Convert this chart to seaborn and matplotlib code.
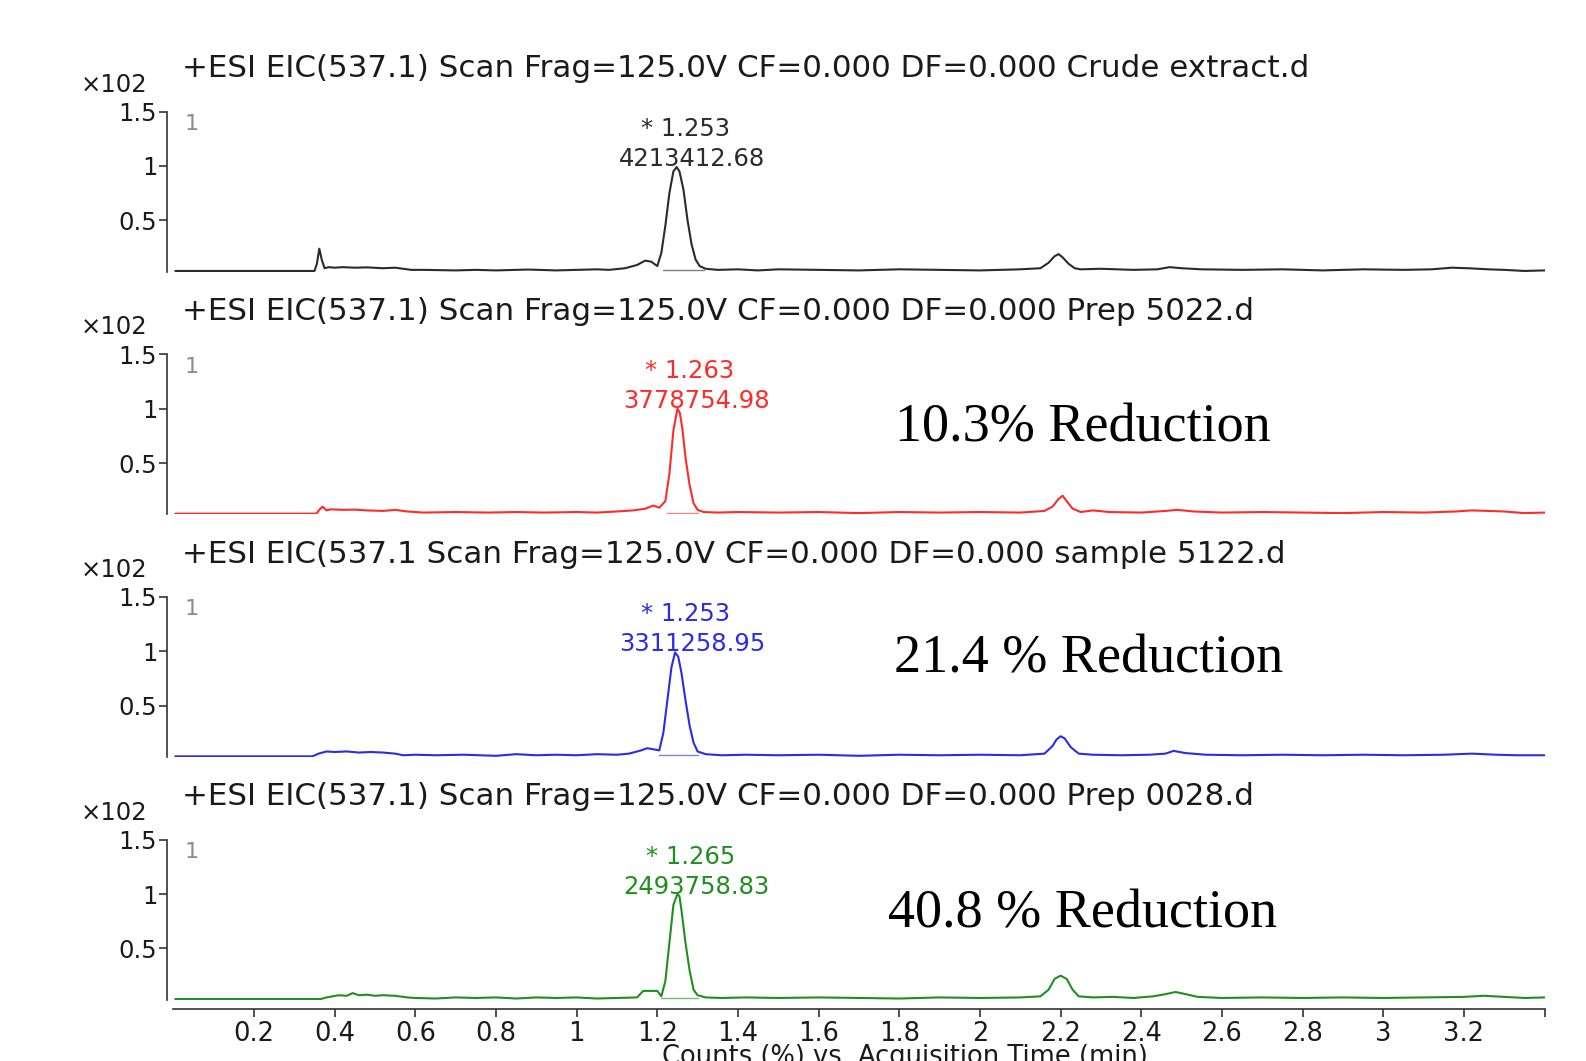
import matplotlib
matplotlib.use("Agg")
import matplotlib.pyplot as plt
import seaborn as sns
import pandas as pd

# ---------------- data ----------------
titles = [
    "+ESI EIC(537.1) Scan Frag=125.0V CF=0.000 DF=0.000 Crude extract.d",
    "+ESI EIC(537.1) Scan Frag=125.0V CF=0.000 DF=0.000 Prep 5022.d",
    "+ESI EIC(537.1 Scan Frag=125.0V CF=0.000 DF=0.000 sample 5122.d",
    "+ESI EIC(537.1) Scan Frag=125.0V CF=0.000 DF=0.000 Prep 0028.d",
]
peak_rt = [1.253, 1.263, 1.253, 1.265]
peak_rt_labels = ["* 1.253", "* 1.263", "* 1.253", "* 1.265"]
peak_areas = ["4213412.68", "3778754.98", "3311258.95", "2493758.83"]
reductions = [None, "10.3% Reduction", "21.4 % Reduction", "40.8 % Reduction"]

t_crude = [0.005, 0.350, 0.356, 0.362, 0.368, 0.375, 0.385, 0.40, 0.42, 0.45, 0.48, 0.52, 0.55,
           0.57, 0.59, 0.62, 0.70, 0.75, 0.80, 0.88, 0.95, 1.00, 1.05, 1.08, 1.12, 1.15, 1.17,
           1.185, 1.20, 1.21, 1.22, 1.23, 1.24, 1.248, 1.255, 1.265, 1.275, 1.285, 1.295, 1.305,
           1.32, 1.35, 1.40, 1.45, 1.50, 1.60, 1.70, 1.80, 1.90, 2.00, 2.10, 2.15, 2.17, 2.185,
           2.195, 2.205, 2.22, 2.235, 2.25, 2.30, 2.38, 2.44, 2.47, 2.50, 2.55, 2.65, 2.75, 2.85,
           2.95, 3.05, 3.12, 3.17, 3.21, 3.26, 3.30, 3.35, 3.40]
y_crude = [0.035, 0.035, 0.10, 0.24, 0.14, 0.06, 0.07, 0.065, 0.07, 0.065, 0.068, 0.06, 0.065,
           0.055, 0.045, 0.045, 0.04, 0.045, 0.04, 0.048, 0.04, 0.045, 0.05, 0.045, 0.06, 0.09, 0.13,
           0.12, 0.08, 0.20, 0.45, 0.75, 0.95, 0.99, 0.95, 0.78, 0.50, 0.28, 0.14, 0.08,
           0.055, 0.045, 0.05, 0.04, 0.05, 0.045, 0.04, 0.05, 0.045, 0.04, 0.05, 0.06, 0.11, 0.17,
           0.19, 0.16, 0.10, 0.06, 0.05, 0.055, 0.045, 0.05, 0.07, 0.06, 0.05, 0.045, 0.05, 0.04,
           0.05, 0.045, 0.05, 0.065, 0.06, 0.05, 0.045, 0.035, 0.04]

t_prep5022 = [0.005, 0.355, 0.362, 0.37, 0.38, 0.39, 0.42, 0.45, 0.48, 0.52, 0.55, 0.58, 0.62,
              0.70, 0.78, 0.85, 0.92, 1.00, 1.05, 1.10, 1.14, 1.17, 1.19, 1.205, 1.22, 1.23, 1.24,
              1.25, 1.256, 1.262, 1.27, 1.28, 1.29, 1.30, 1.315, 1.35, 1.40, 1.50, 1.60, 1.70, 1.80,
              1.90, 2.00, 2.10, 2.16, 2.18, 2.195, 2.205, 2.215, 2.23, 2.25, 2.28, 2.32, 2.40, 2.46,
              2.49, 2.53, 2.60, 2.70, 2.80, 2.90, 3.00, 3.10, 3.18, 3.22, 3.26, 3.30, 3.35, 3.40]
y_prep5022 = [0.035, 0.035, 0.07, 0.10, 0.065, 0.075, 0.07, 0.072, 0.065, 0.06, 0.07, 0.055, 0.045,
              0.05, 0.045, 0.05, 0.045, 0.05, 0.045, 0.055, 0.065, 0.08, 0.11, 0.09, 0.15, 0.40, 0.80,
              1.00, 0.96, 0.82, 0.55, 0.30, 0.13, 0.07, 0.05, 0.045, 0.05, 0.045, 0.05, 0.04, 0.05,
              0.045, 0.05, 0.045, 0.06, 0.10, 0.17, 0.20, 0.15, 0.08, 0.05, 0.065, 0.05, 0.045, 0.06,
              0.07, 0.055, 0.045, 0.05, 0.045, 0.04, 0.05, 0.045, 0.055, 0.065, 0.06, 0.055, 0.04, 0.045]

t_sample5122 = [0.005, 0.345, 0.36, 0.38, 0.40, 0.43, 0.46, 0.49, 0.52, 0.55, 0.57, 0.60, 0.65,
                0.72, 0.80, 0.85, 0.90, 0.95, 1.00, 1.05, 1.10, 1.13, 1.16, 1.175, 1.19, 1.205, 1.215,
                1.225, 1.235, 1.244, 1.252, 1.26, 1.27, 1.28, 1.29, 1.30, 1.32, 1.36, 1.42, 1.50,
                1.60, 1.70, 1.80, 1.90, 2.00, 2.10, 2.16, 2.18, 2.19, 2.20, 2.21, 2.225, 2.245, 2.28,
                2.35, 2.42, 2.46, 2.48, 2.51, 2.56, 2.65, 2.75, 2.85, 2.95, 3.05, 3.15, 3.22, 3.28,
                3.33, 3.40]
y_sample5122 = [0.035, 0.035, 0.06, 0.08, 0.075, 0.08, 0.07, 0.075, 0.07, 0.06, 0.045, 0.05, 0.045,
                0.05, 0.04, 0.055, 0.045, 0.05, 0.045, 0.055, 0.05, 0.06, 0.09, 0.11, 0.10, 0.09, 0.25,
                0.55, 0.85, 0.99, 0.95, 0.80, 0.55, 0.32, 0.16, 0.08, 0.055, 0.045, 0.05, 0.045,
                0.05, 0.04, 0.05, 0.045, 0.05, 0.045, 0.06, 0.13, 0.19, 0.22, 0.20, 0.12, 0.06, 0.05,
                0.045, 0.05, 0.06, 0.085, 0.065, 0.05, 0.045, 0.05, 0.045, 0.05, 0.045, 0.05, 0.06, 0.05,
                0.045, 0.045]

t_prep0028 = [0.005, 0.365, 0.38, 0.41, 0.43, 0.445, 0.46, 0.48, 0.50, 0.52, 0.55, 0.58, 0.60,
              0.65, 0.70, 0.75, 0.80, 0.85, 0.90, 0.95, 1.00, 1.05, 1.10, 1.15, 1.165, 1.20, 1.21,
              1.22, 1.23, 1.24, 1.25, 1.255, 1.26, 1.27, 1.28, 1.29, 1.30, 1.32, 1.36, 1.42, 1.50,
              1.60, 1.70, 1.80, 1.90, 2.00, 2.10, 2.15, 2.17, 2.185, 2.20, 2.215, 2.23, 2.245, 2.28,
              2.33, 2.38, 2.43, 2.46, 2.485, 2.51, 2.54, 2.60, 2.70, 2.80, 2.90, 3.00, 3.10, 3.20,
              3.25, 3.30, 3.35, 3.40]
y_prep0028 = [0.035, 0.035, 0.05, 0.07, 0.065, 0.09, 0.07, 0.075, 0.065, 0.07, 0.065, 0.05, 0.045,
              0.04, 0.05, 0.045, 0.05, 0.04, 0.05, 0.045, 0.05, 0.04, 0.045, 0.05, 0.11, 0.11, 0.06,
              0.20, 0.55, 0.90, 1.00, 0.98, 0.85, 0.55, 0.30, 0.12, 0.07, 0.05, 0.045, 0.05, 0.045,
              0.05, 0.045, 0.04, 0.05, 0.045, 0.05, 0.06, 0.12, 0.22, 0.25, 0.22, 0.12, 0.06, 0.05,
              0.055, 0.045, 0.06, 0.08, 0.10, 0.08, 0.055, 0.045, 0.05, 0.045, 0.05, 0.045, 0.05, 0.055,
              0.065, 0.055, 0.045, 0.05]

integ_start = [1.215, 1.225, 1.205, 1.21]
integ_end = [1.315, 1.30, 1.30, 1.30]
integ_level = [0.045, 0.045, 0.045, 0.045]

x_ticks = [0.2, 0.4, 0.6, 0.8, 1.0, 1.2, 1.4, 1.6, 1.8, 2.0, 2.2, 2.4, 2.6, 2.8, 3.0, 3.2, 3.4]
x_ticklabels = ["0.2", "0.4", "0.6", "0.8", "1", "1.2", "1.4", "1.6", "1.8", "2", "2.2", "2.4",
                "2.6", "2.8", "3", "3.2", ""]
y_ticks = [0.5, 1.0, 1.5]
y_ticklabels = ["0.5", "1", "1.5"]

traces = [(t_crude, y_crude), (t_prep5022, y_prep5022),
          (t_sample5122, y_sample5122), (t_prep0028, y_prep0028)]
colors = ["#2b2b2b", "#ff2b2b", "#2b2be8", "#1f8f1f"]

# ---------------- figure ----------------
sns.set_theme(style="white")
plt.rcParams["font.family"] = ["DejaVu Sans"]

W, H = 1586, 1061
fig = plt.figure(figsize=(W / 100, H / 100), dpi=100)
fig.patch.set_facecolor("white")


def fx(px):
    return px / W


def fy(py):
    return 1 - py / H


AX_LEFT, AX_RIGHT = 167, 1545
PANEL_TOP0, PANEL_STEP, PANEL_H = 111.5, 242.7, 160.0
XLIM = (-0.0156, 3.401)
YLIM = (0.03, 1.5)
TITLE_FS = 22.3
TICK_FS = 17.5
ANN_FS = 17.5
axis_color = "#333333"
text_color = "#1a1a1a"


def data_y(py_in_panel):
    # pixel row inside a panel (measured from panel-1 layout) -> data y
    return YLIM[1] - (py_in_panel - PANEL_TOP0) * (YLIM[1] - YLIM[0]) / PANEL_H


axes = []
for i in range(4):
    top = PANEL_TOP0 + PANEL_STEP * i
    ax = fig.add_axes([fx(AX_LEFT), fy(top + PANEL_H), fx(AX_RIGHT - AX_LEFT), PANEL_H / H])
    axes.append(ax)
    t, v = traces[i]
    df = pd.DataFrame({"time": t, "counts": v})
    sns.lineplot(data=df, x="time", y="counts", ax=ax, color=colors[i], linewidth=1.5,
                 sort=False, estimator=None)
    # integration baseline under the main peak
    bl = pd.DataFrame({"time": [integ_start[i], integ_end[i]],
                       "counts": [integ_level[i], integ_level[i]]})
    sns.lineplot(data=bl, x="time", y="counts", ax=ax, color=colors[i], linewidth=1.0,
                 alpha=0.6, sort=False, estimator=None)

    ax.set_xlim(*XLIM)
    ax.set_ylim(*YLIM)
    ax.set_facecolor("white")
    for s in ["top", "right", "bottom"]:
        ax.spines[s].set_visible(False)
    ax.spines["left"].set_color(axis_color)
    ax.spines["left"].set_linewidth(1.2)
    ax.set_yticks(y_ticks)
    ax.set_yticklabels(y_ticklabels)
    ax.tick_params(axis="y", direction="out", length=6, width=1.2, color=axis_color,
                   labelsize=TICK_FS, labelcolor=text_color, pad=1, left=True)
    ax.set_xlabel("")
    ax.set_ylabel("")
    ax.grid(False)

    if i < 3:
        ax.set_xticks([])
    else:
        ax.spines["bottom"].set_visible(True)
        ax.spines["bottom"].set_position(("outward", 6.5))
        ax.spines["bottom"].set_bounds(0.0, 3.40)
        ax.spines["bottom"].set_color(axis_color)
        ax.spines["bottom"].set_linewidth(1.2)
        ax.set_xticks(x_ticks)
        ax.set_xticklabels(x_ticklabels)
        ax.tick_params(axis="x", direction="out", length=6, width=1.2, color=axis_color,
                       labelsize=TICK_FS + 1, labelcolor=text_color, pad=3, bottom=True)

    # panel texts
    fig.text(fx(182), fy(68.8 + PANEL_STEP * i), titles[i], fontsize=TITLE_FS, color=text_color,
             ha="left", va="center")
    fig.text(fx(81), fy(84.5 + PANEL_STEP * i), "×102", fontsize=TICK_FS, color=text_color,
             ha="left", va="center")
    fig.text(fx(185), fy(124 + PANEL_STEP * i), "1", fontsize=16, color="#8a8a8a",
             ha="left", va="center")

    # peak annotation
    ax.text(peak_rt[i] + 0.017, data_y(128.5), peak_rt_labels[i], fontsize=ANN_FS,
            color=colors[i], ha="center", va="center")
    ax.text(peak_rt[i] + 0.033, data_y(158.5), peak_areas[i], fontsize=ANN_FS,
            color=colors[i], ha="center", va="center")

# reduction labels
red_pos = [None, (895, 442), (894, 672.6), (888, 927.5)]
for i in range(1, 4):
    x, y = red_pos[i]
    fig.text(fx(x), fy(y), reductions[i], fontsize=39, color="black",
             family=["Liberation Serif", "DejaVu Serif"], ha="left", va="baseline")

fig.text(fx(905), fy(1044), "Counts (%) vs. Acquisition Time (min)", fontsize=TICK_FS + 1,
         color=text_color, ha="center", va="top")

fig.savefig("out.png", dpi=100, facecolor="white")
